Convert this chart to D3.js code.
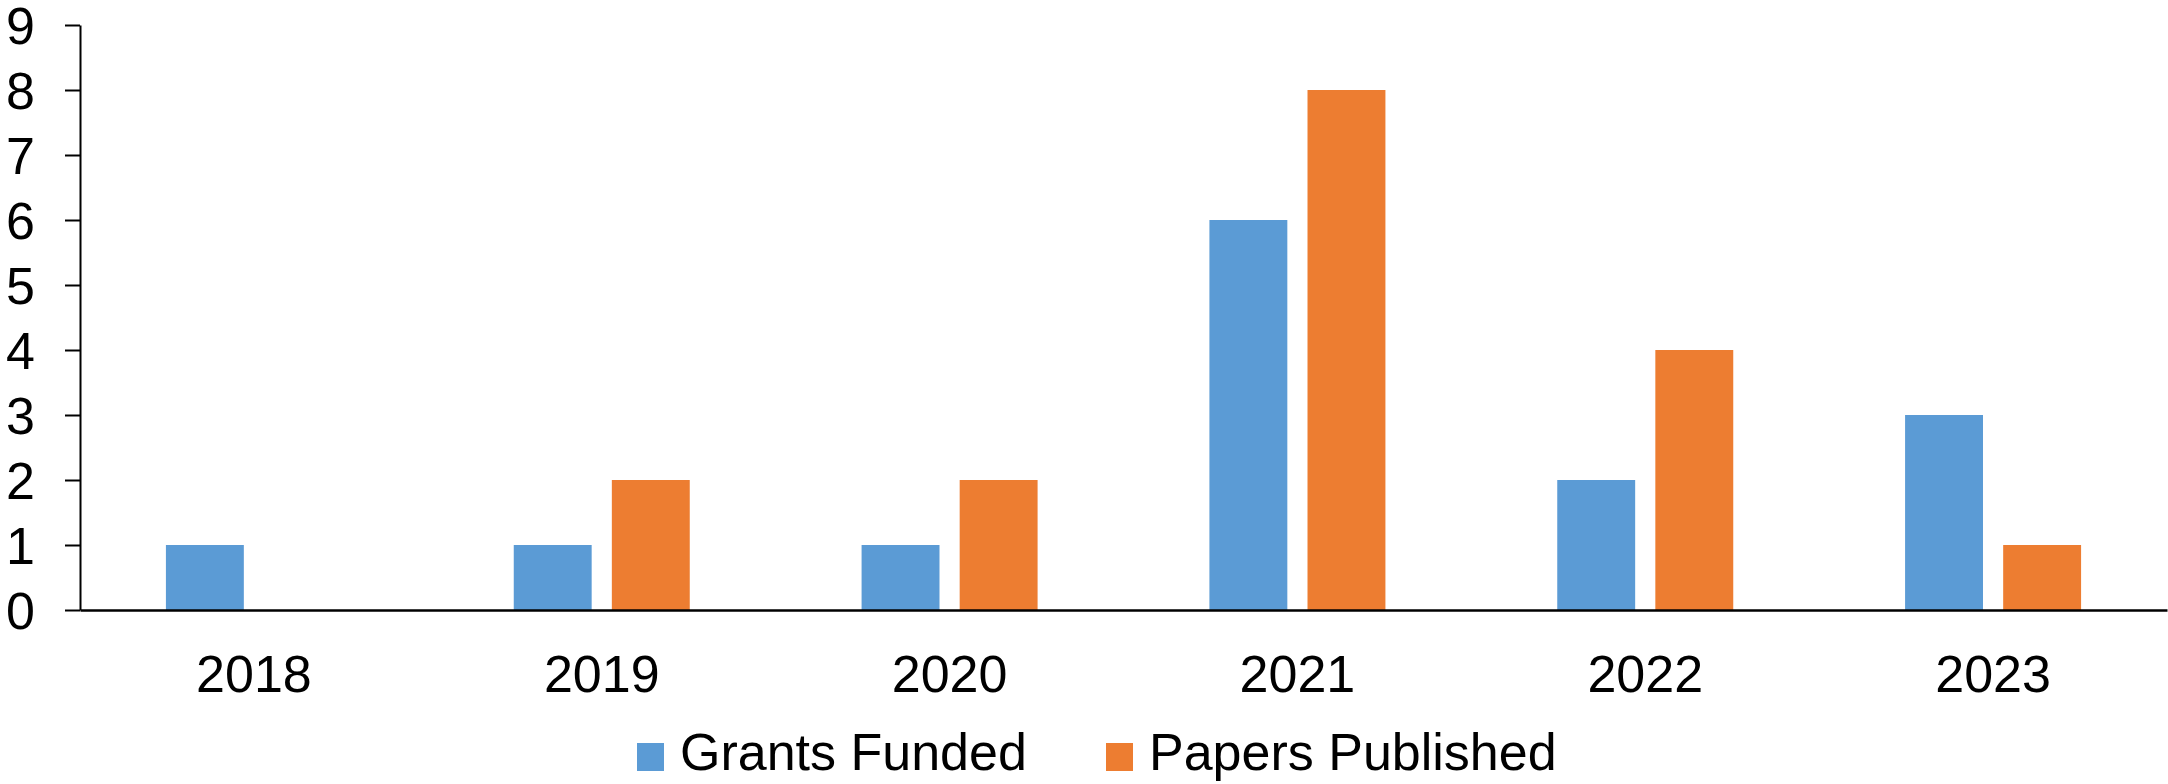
<!DOCTYPE html>
<html>
<head>
<meta charset="utf-8">
<script src="https://cdn.jsdelivr.net/npm/d3@7"></script>
<style>
  body { margin: 0; background: #fff; }
  text { font-family: "Liberation Sans", Arial, sans-serif; fill: #000; }
</style>
</head>
<body>
<div class="chart"></div>
<script>
var years = ["2018", "2019", "2020", "2021", "2022", "2023"];
var grantsFunded = [1, 1, 1, 6, 2, 3];
var papersPublished = [0, 2, 2, 8, 4, 1];
var seriesNames = ["Grants Funded", "Papers Published"];
var yTicks = [0, 1, 2, 3, 4, 5, 6, 7, 8, 9];

var svgWidth = 2168;
var svgHeight = 784;
var margin = { top: 25, right: 1, bottom: 174, left: 80 };
var width = svgWidth - margin.left - margin.right;
var height = svgHeight - margin.top - margin.bottom;
var colors = ["#5B9BD5", "#ED7D31"];

var svg = d3.select(".chart").append("svg")
  .attr("width", svgWidth)
  .attr("height", svgHeight);

var chartGroup = svg.append("g")
  .attr("transform", `translate(${margin.left}, ${margin.top})`);

var xScale = d3.scaleBand().domain(years).range([0, width]);
var yScale = d3.scaleLinear().domain([0, 9]).range([height, 0]);

// bar geometry relative to the band
var barWidth = xScale.bandwidth() * 0.224;
var barGap = xScale.bandwidth() * 0.058;

var data = years.map((y, i) => ({ year: y, values: [grantsFunded[i], papersPublished[i]] }));

data.forEach(function(d) {
  var cx = xScale(d.year) + xScale.bandwidth() / 2;
  d.values.forEach(function(v, j) {
    if (v <= 0) return;
    var x = j === 0 ? cx - barGap / 2 - barWidth : cx + barGap / 2;
    chartGroup.append("rect")
      .attr("x", x)
      .attr("y", yScale(v))
      .attr("width", barWidth)
      .attr("height", yScale(0) - yScale(v))
      .attr("fill", colors[j]);
  });
});

/* Y Axis */
var leftAxis = d3.axisLeft(yScale).tickValues(yTicks).tickSize(15).tickSizeOuter(0).tickPadding(30);
var yAxis = chartGroup.append("g").call(leftAxis);
yAxis.select(".domain").attr("stroke", "#000").attr("stroke-width", 2);
yAxis.selectAll(".tick line").attr("stroke", "#000").attr("stroke-width", 2);
yAxis.selectAll("text").attr("font-size", "52px").attr("font-family", "Liberation Sans, Arial, sans-serif").attr("dy", "0.36em");

/* X Axis */
var bottomAxis = d3.axisBottom(xScale).tickSize(0).tickSizeOuter(0);
var xAxis = chartGroup.append("g")
  .attr("transform", `translate(0, ${height})`)
  .call(bottomAxis);
xAxis.select(".domain").attr("stroke", "#000").attr("stroke-width", 2.5);
xAxis.selectAll("text")
  .attr("y", 82)
  .attr("dy", 0)
  .attr("font-size", "52px")
  .attr("font-family", "Liberation Sans, Arial, sans-serif");

/* Legend */
var legend = svg.append("g");
var legendX = [637, 1106];
seriesNames.forEach(function(name, j) {
  legend.append("rect")
    .attr("x", legendX[j])
    .attr("y", 743)
    .attr("width", 27)
    .attr("height", 28)
    .attr("fill", colors[j]);
  legend.append("text")
    .attr("x", legendX[j] + 43)
    .attr("y", 770)
    .attr("font-size", "52px")
    .text(name);
});
</script>
</body>
</html>
